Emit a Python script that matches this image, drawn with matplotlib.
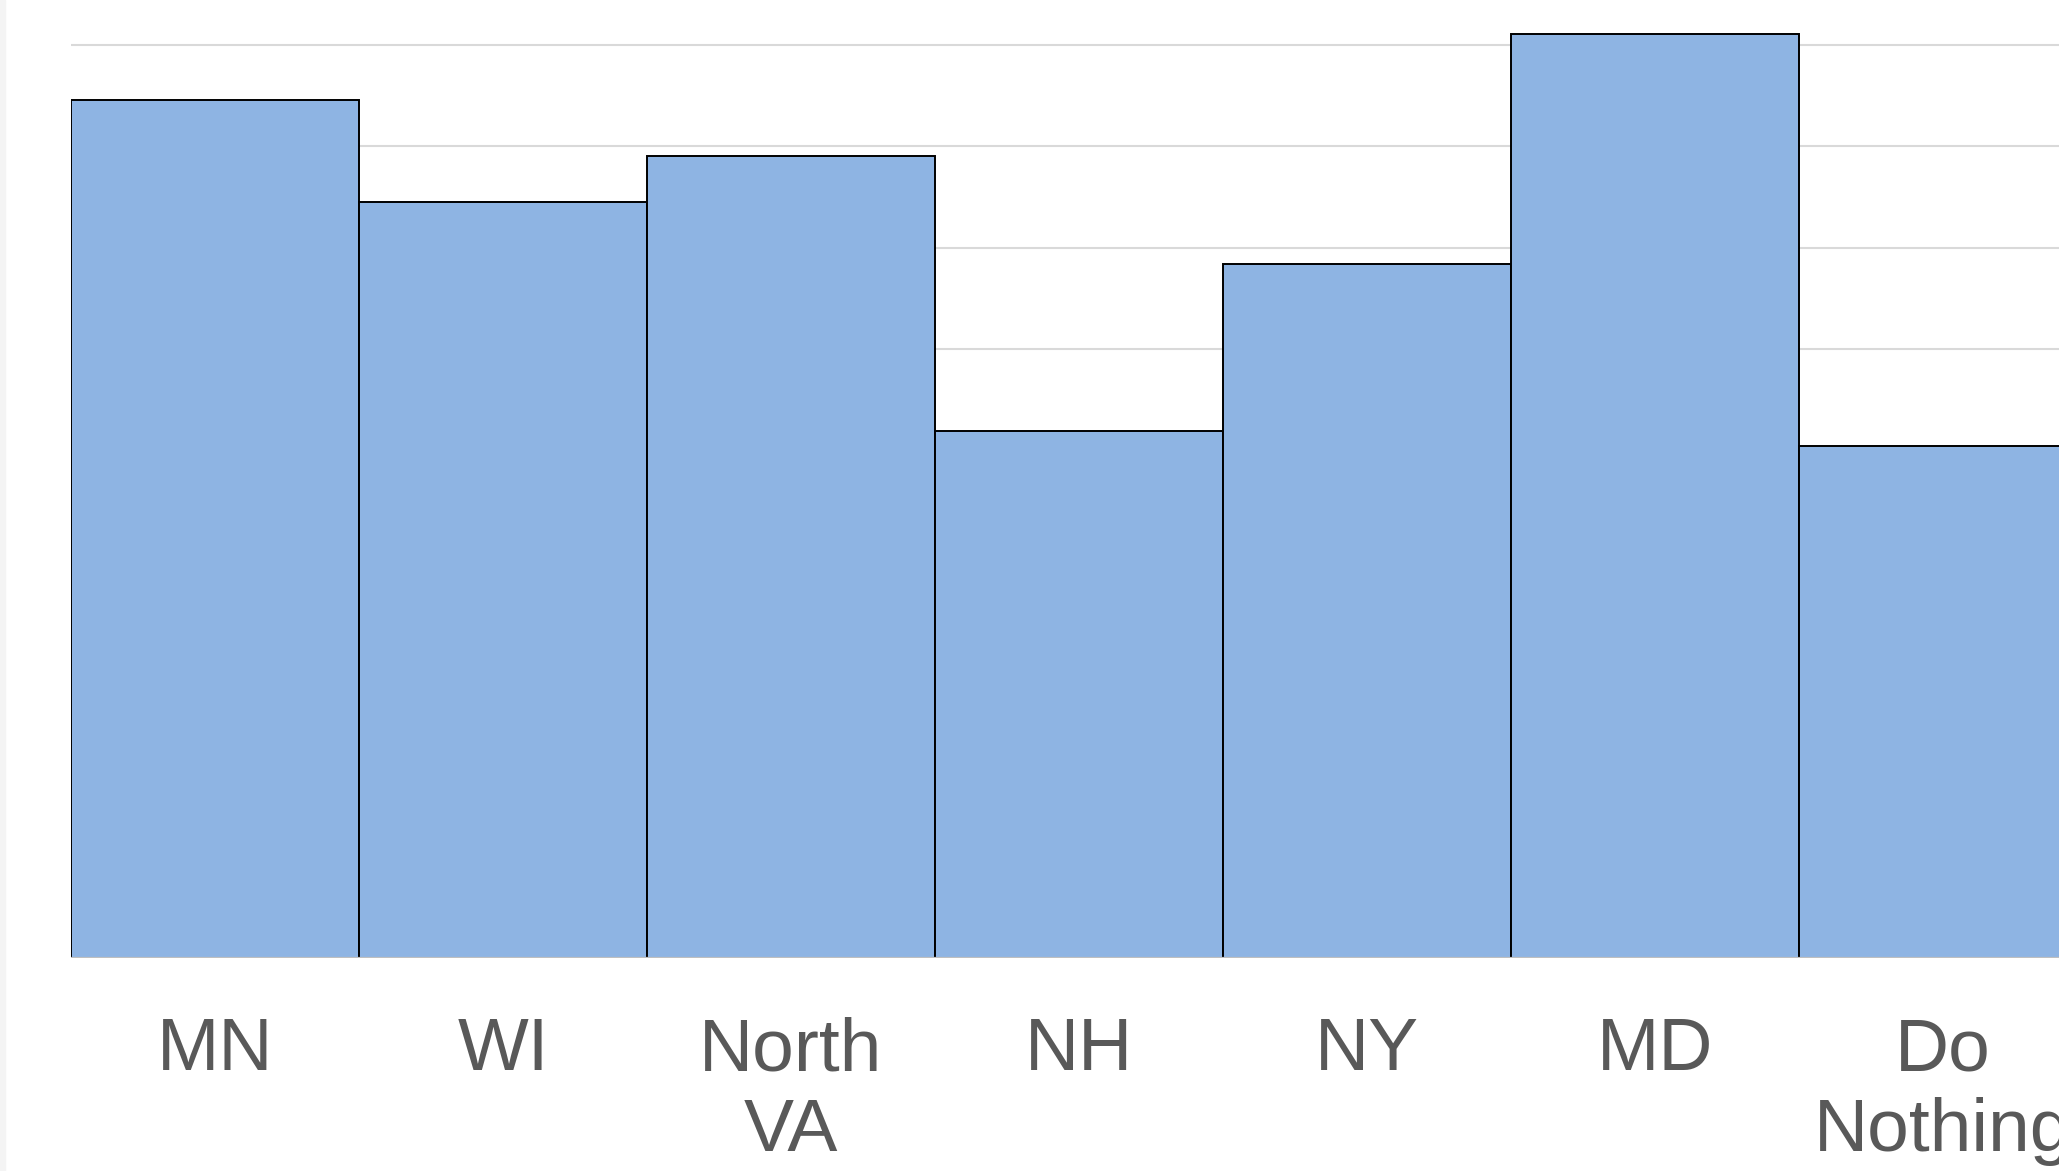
import matplotlib.pyplot as plt
import numpy as np

# bar chart of option scores, no value axis shown
categories = ['MN', 'WI', 'North\nVA', 'NH', 'NY', 'MD', 'Do\nNothing']
values = [8.45, 7.45, 7.90, 5.19, 6.84, 9.10, 5.04]
grid_levels = [1, 2, 3, 4, 5, 6, 7, 8, 9]

W, H = 2059, 1171
fig = plt.figure(figsize=(W / 100, H / 100), dpi=100)
left_px, base_px = 71, 958
ax = fig.add_axes([left_px / W, 1 - base_px / H, (W - left_px) / W, base_px / H])

x = np.arange(len(categories))
ax.bar(x, values, width=1.0, color='#8EB4E3', edgecolor='black', linewidth=1.4, zorder=3)

for g in grid_levels:
    ax.axhline(g, color='#D9D9D9', linewidth=1.5, zorder=1)
ax.axhline(0, color='#BFBFBF', linewidth=1.6, zorder=4)

unit = (base_px - 44.5) / 9
ax.set_ylim(0, base_px / unit)
ax.set_xlim(-0.5, -0.5 + (W - left_px) / 288)

ax.set_xticks(x)
ax.set_xticklabels(categories, fontsize=54, color='#595959',
                   family=['Liberation Sans', 'DejaVu Sans'], linespacing=1.22)
ax.tick_params(axis='x', length=0, pad=42)
ax.set_yticks([])
for s in ax.spines.values():
    s.set_visible(False)

# faint strip at the left edge
fig.patches.append(plt.Rectangle((0, 0), 5 / W, 1, transform=fig.transFigure,
                                 color='#F4F4F4', zorder=0))

fig.savefig('out.png', dpi=100)
